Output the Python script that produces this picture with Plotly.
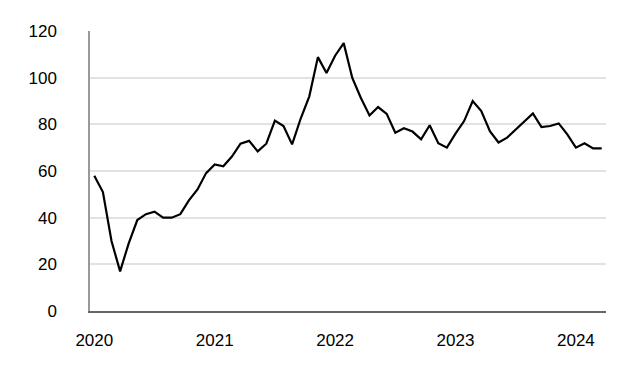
import plotly.graph_objects as go

values = [58, 51, 30, 17, 29, 39, 41.5, 42.6, 40, 40,
          41.5, 47.4, 52.1, 59.1, 62.8, 62, 66.2, 71.7, 72.9, 68.4,
          71.7, 81.6, 79.3, 71.4, 82.5, 92, 108.8, 102, 109.4, 114.8,
          99.9, 91.3, 83.8, 87.4, 84.5, 76.4, 78.3, 76.9, 73.6, 79.6,
          71.9, 70, 76, 81.4, 90, 85.7, 77.1, 72.2, 74.3, 77.8,
          81.1, 84.7, 78.8, 79.3, 80.4, 75.7, 70, 71.9, 69.7, 69.7]
x_index = list(range(len(values)))
tick_positions = [0, 14, 28, 42, 56]
tick_labels = ["2020", "2021", "2022", "2023", "2024"]
y_ticks = [0, 20, 40, 60, 80, 100, 120]

fig = go.Figure()
fig.add_trace(go.Scatter(x=x_index, y=values, mode="lines",
                         line=dict(color="black", width=2.2), showlegend=False,
                         hoverinfo="skip"))

fig.update_layout(
    width=636, height=378,
    margin=dict(l=90, r=30, t=31, b=67),
    paper_bgcolor="white", plot_bgcolor="white",
    font=dict(family="Liberation Sans, Arial, sans-serif", size=17, color="black"),
)
fig.update_xaxes(
    range=[-0.5, 59.5], tickvals=tick_positions, ticktext=tick_labels,
    showgrid=False, zeroline=False, showline=True, linecolor="#666666", linewidth=2,
    ticks="", ticklabelstandoff=13,
)
fig.update_yaxes(
    range=[0, 120], tickvals=y_ticks, showgrid=True, gridcolor="#e2e2e2", gridwidth=1.5,
    zeroline=False, showline=True, linecolor="#999999", linewidth=1.5,
    ticks="", ticklabelstandoff=28,
)
fig.write_html("out.html")
